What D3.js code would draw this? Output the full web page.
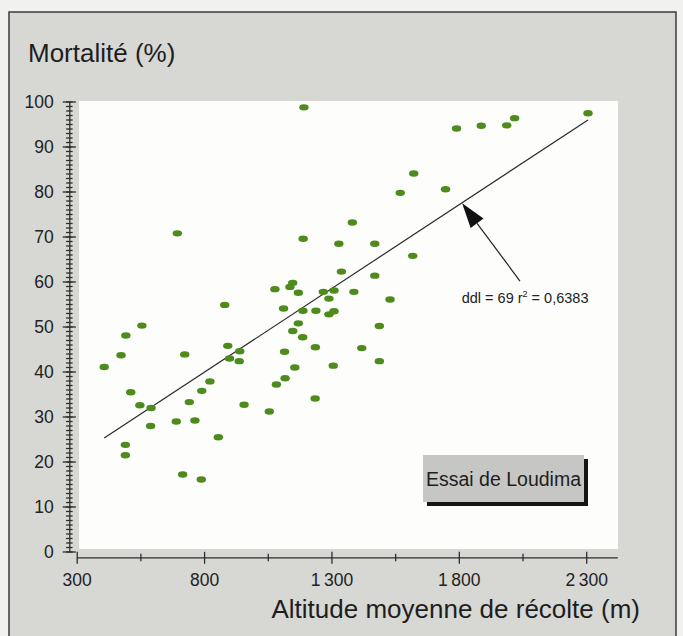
<!DOCTYPE html>
<html>
<head>
<meta charset="utf-8">
<script src="https://cdn.jsdelivr.net/npm/d3@7"></script>
<style>
    body { margin: 0; background: #f1f1ef; }
    svg { display: block; font-family: "Liberation Sans", Arial, sans-serif; }
</style>
</head>
<body>
<svg id="chart" width="683" height="636"></svg>
<script>
// Altitude moyenne de récolte (m) and mortalité (%) for each provenance
const altitude = [
    1192, 1382, 695, 1189, 1329, 1470, 1339, 1470, 1078, 1137,
    1148, 1170, 1268, 1310, 1388, 1290, 1530, 881, 1112, 1188,
    1239, 1290, 1310, 1170, 556, 1488, 1148, 493, 1187, 893,
    1237, 1419, 940, 1116, 474, 724, 900, 938, 1488, 408,
    1156, 1307, 1118, 1084, 823, 791, 512, 742, 548, 592,
    957, 1056, 1236, 590, 691, 764, 856, 491, 491, 716,
    789, 2307, 2019, 1988, 1888, 1791, 1623, 1570, 1748, 1619
];
const mortality = [
    98.7, 73.1, 70.7, 69.5, 68.4, 68.4, 62.2, 61.3, 58.3, 58.8,
    59.7, 57.5, 57.7, 58.0, 57.7, 56.2, 56.0, 54.8, 54.0, 53.5,
    53.5, 52.7, 53.4, 50.7, 50.2, 50.1, 49.0, 48.0, 47.6, 45.7,
    45.4, 45.2, 44.5, 44.4, 43.6, 43.8, 42.9, 42.3, 42.3, 41.0,
    40.9, 41.3, 38.5, 37.1, 37.8, 35.7, 35.4, 33.2, 32.5, 31.9,
    32.6, 31.1, 34.0, 27.9, 28.9, 29.1, 25.4, 23.7, 21.4, 17.1,
    16.0, 97.4, 96.3, 94.7, 94.6, 94.0, 84.0, 79.7, 80.5, 65.7
];

const xMajorTicks = [300, 800, 1300, 1800, 2300];
const xMinorTicks = [550, 1050, 1550, 2050];
const yMajorTicks = [0, 10, 20, 30, 40, 50, 60, 70, 80, 90, 100];
const yMinorTicks = d3.range(0, 101, 1);

// regression line end points
const trendAltitude = [408, 2307];
const trendMortality = [25.2, 95.9];

// annotation arrow: from the label up to the line
const arrowTail = [2040, 60.1];
const arrowTip = [1813, 77.4];

const yTitle = "Mortalité (%)";
const xTitle = "Altitude moyenne de récolte (m)";
const legendLabel = "Essai de Loudima";

const svg = d3.select("#chart");

const x = d3.scaleLinear().domain([300, 2422]).range([76.7, 617.3]);
const y = d3.scaleLinear().domain([0, 100]).range([551.5, 101.5]);

// grey panel and white plotting area
svg.append("rect")
    .attr("x", 9).attr("y", 12)
    .attr("width", 667).attr("height", 640)
    .style("fill", "#d7d7d4")
    .style("stroke", "#3b3b3b")
    .style("stroke-width", "1.5px");

svg.append("rect")
    .attr("x", 79).attr("y", 101)
    .attr("width", 539).attr("height", 448)
    .style("fill", "#fdfdfb");

const fmt = d3.formatLocale({ decimal: ",", thousands: "\u2009", grouping: [3], currency: ["", ""] }).format(",d");

// y axis, ticks crossing the line
const yAxis = svg.append("g")
    .attr("transform", "translate(69.3,0)")
    .call(d3.axisLeft(y).tickValues(yMinorTicks).tickSize(3.3).tickFormat(""))
    .call(g => g.select(".domain").remove());
yAxis.selectAll(".tick line").attr("x1", 3.3);

const yAxisMajor = svg.append("g")
    .attr("transform", "translate(69.3,0)")
    .call(d3.axisLeft(y).tickValues(yMajorTicks).tickSize(6.6).tickSizeOuter(0).tickPadding(9).tickFormat(d3.format("d")));
yAxisMajor.selectAll(".tick line").attr("x1", 6.6);
yAxisMajor.selectAll("text").style("font-size", "17.5px").style("fill", "#222");

// x axis
const xAxisMinor = svg.append("g")
    .attr("transform", "translate(0,557.3)")
    .call(d3.axisBottom(x).tickValues(xMinorTicks).tickSize(4).tickFormat(""))
    .call(g => g.select(".domain").remove());
xAxisMinor.selectAll(".tick line").attr("y1", -3.5);

const xAxis = svg.append("g")
    .attr("transform", "translate(0,557.3)")
    .call(d3.axisBottom(x).tickValues(xMajorTicks).tickSize(6.5).tickSizeOuter(0).tickPadding(9.5).tickFormat(fmt));
xAxis.selectAll(".tick line").attr("y1", -5.5);
xAxis.selectAll("text").style("font-size", "17.5px").style("fill", "#222");

svg.selectAll(".domain, .tick line").style("stroke", "#2e2e2e").style("stroke-width", "1.3px");

// axis titles
svg.append("text")
    .attr("x", 28).attr("y", 62)
    .style("font-size", "26px").style("fill", "#1e1e1e")
    .text(yTitle);

svg.append("text")
    .attr("x", 640).attr("y", 618)
    .attr("text-anchor", "end")
    .style("font-size", "26px").style("fill", "#1e1e1e")
    .text(xTitle);

// regression line
svg.append("line")
    .attr("x1", x(trendAltitude[0])).attr("y1", y(trendMortality[0]))
    .attr("x2", x(trendAltitude[1])).attr("y2", y(trendMortality[1]))
    .style("stroke", "#2a2a2a")
    .style("stroke-width", "1.2px");

// points
svg.append("g")
    .selectAll("ellipse")
    .data(altitude.map((a, i) => ({ alt: a, mort: mortality[i] })))
    .enter().append("ellipse")
    .attr("cx", d => x(d.alt))
    .attr("cy", d => y(d.mort))
    .attr("rx", 4.7)
    .attr("ry", 3.2)
    .style("fill", "#4d8b1c");

// arrow to the regression line
const tx = x(arrowTail[0]), ty = y(arrowTail[1]);
const hx = x(arrowTip[0]), hy = y(arrowTip[1]);
const len = Math.hypot(hx - tx, hy - ty);
const ux = (hx - tx) / len, uy = (hy - ty) / len;
const headLen = 25, headHalf = 8;
const bx = hx - ux * headLen, by = hy - uy * headLen;

svg.append("line")
    .attr("x1", tx).attr("y1", ty)
    .attr("x2", bx).attr("y2", by)
    .style("stroke", "#222")
    .style("stroke-width", "1.2px");

svg.append("path")
    .attr("d", d3.line()([
        [hx, hy],
        [bx - uy * headHalf, by + ux * headHalf],
        [bx + uy * headHalf, by - ux * headHalf]
    ]) + "Z")
    .style("fill", "#111");

const stat = svg.append("text")
    .attr("x", 461.7).attr("y", 303)
    .style("font-size", "14.5px").style("fill", "#222");
stat.append("tspan").text("ddl = 69 r");
stat.append("tspan").attr("dy", -6).style("font-size", "9px").text("2");
stat.append("tspan").attr("dy", 6).text(" = 0,6383");

// legend box with shadow
svg.append("rect")
    .attr("x", 427).attr("y", 459)
    .attr("width", 161).attr("height", 47)
    .style("fill", "#151515");
svg.append("rect")
    .attr("x", 423).attr("y", 455)
    .attr("width", 161).attr("height", 47)
    .style("fill", "#c6c6c4");
svg.append("text")
    .attr("x", 503.5).attr("y", 486)
    .attr("text-anchor", "middle")
    .style("font-size", "19.5px").style("fill", "#1e1e1e")
    .text(legendLabel);
</script>
</body>
</html>
